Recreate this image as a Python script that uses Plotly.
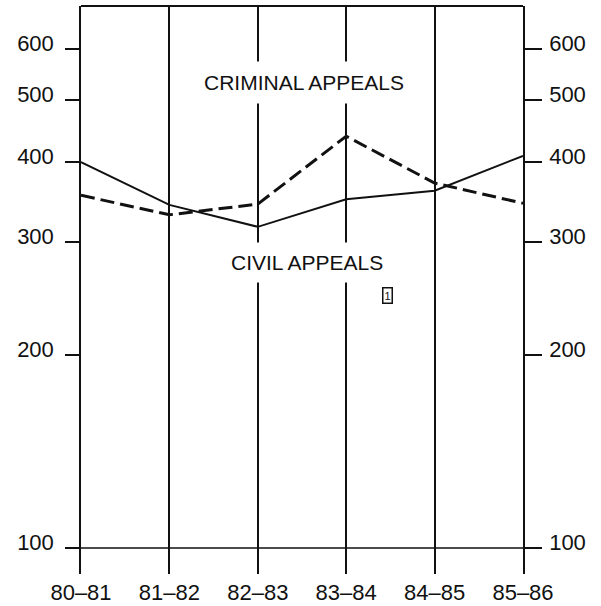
import plotly.graph_objects as go

years = ["80-81", "81-82", "82-83", "83-84", "84-85", "85-86"]
year_labels = ["80–81", "81–82", "82–83", "83–84", "84–85", "85–86"]
solid_values = [400, 343, 317, 350, 361, 409]
dashed_values = [355, 331, 344, 439, 371, 345]
ytick_vals = [100, 200, 300, 400, 500, 600]
ytick_text = ["100", "200", "300", "400", "500", "600"]
baseline = [100, 100]

INK = "#111111"
FONT = "Liberation Sans, Arial, sans-serif"

fig = go.Figure()
fig.add_trace(go.Scatter(x=years, y=solid_values, mode="lines", name="Solid",
                         line=dict(color=INK, width=2), showlegend=False))
fig.add_trace(go.Scatter(x=years, y=dashed_values, mode="lines", name="Dashed",
                         line=dict(color=INK, width=3, dash="14px,6px"),
                         showlegend=False))
fig.add_trace(go.Scatter(x=[years[0], years[-1]], y=baseline, mode="lines",
                         line=dict(color=INK, width=1.5), yaxis="y2",
                         hoverinfo="skip", showlegend=False))

yr = [1.9594, 2.8456]
fig.update_layout(
    width=601, height=606,
    margin=dict(l=81, r=78, t=6, b=32),
    paper_bgcolor="white", plot_bgcolor="white",
    font=dict(family=FONT, color=INK),
    xaxis=dict(type="category", categoryorder="array", categoryarray=years,
               range=[0, 5], tickvals=years, ticktext=year_labels,
               showgrid=True, gridcolor=INK, gridwidth=1.5, showline=False,
               zeroline=False, ticks="", tickfont=dict(size=22, family=FONT, color=INK),
               ticklabelstandoff=3, automargin=False),
    yaxis=dict(type="log", range=yr, tickvals=ytick_vals, ticktext=ytick_text,
               showgrid=False, showline=True, linecolor=INK, linewidth=1.5,
               ticks="outside", ticklen=14, tickwidth=1.5, tickcolor=INK,
               tickfont=dict(size=22, family=FONT, color=INK),
               ticklabelstandoff=7, ticklabelshift=-6, zeroline=False,
               automargin=False),
    yaxis2=dict(type="log", range=yr, tickvals=ytick_vals, ticktext=ytick_text,
                overlaying="y", side="right", showgrid=False, showline=True,
                linecolor=INK, linewidth=1.5, ticks="outside", ticklen=17,
                tickwidth=1.5, tickcolor=INK,
                tickfont=dict(size=22, family=FONT, color=INK),
                ticklabelstandoff=3, ticklabelshift=-6, zeroline=False,
                automargin=False),
    shapes=[dict(type="line", xref="paper", yref="paper", x0=0, x1=1, y0=1, y1=1,
                 line=dict(color=INK, width=2))],
    annotations=[
        dict(text="CRIMINAL APPEALS", x=2.52, y=2.727, xref="x", yref="y",
             showarrow=False, bgcolor="white", borderpad=9,
             font=dict(size=21, family=FONT, color=INK)),
        dict(text="CIVIL APPEALS", x=2.56, y=2.446, xref="x", yref="y",
             showarrow=False, bgcolor="white", borderpad=8,
             font=dict(size=21, family=FONT, color=INK)),
        dict(text="1", x=3.47, y=2.3947, xref="x", yref="y", showarrow=False,
             bgcolor="white", bordercolor=INK, borderwidth=1.5, borderpad=1,
             font=dict(size=11, family=FONT, color=INK)),
    ],
)

fig.write_html("out.html", config={"displayModeBar": False},
               post_script="document.body.style.margin='0px';")
